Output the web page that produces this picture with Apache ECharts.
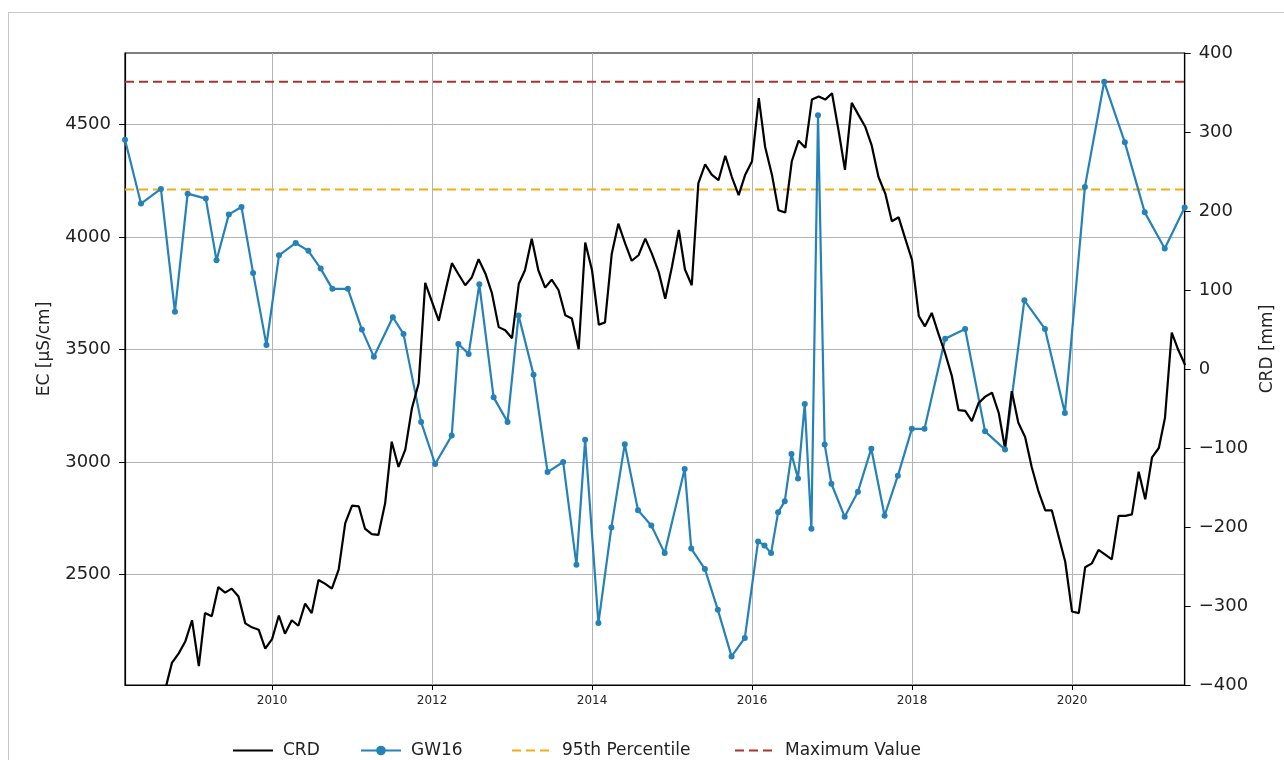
<!DOCTYPE html>
<html>
<head>
<meta charset="utf-8">
<title>EC / CRD</title>
<script src="https://cdn.jsdelivr.net/npm/echarts@6/dist/echarts.min.js"></script>
<style>
  html, body { margin: 0; padding: 0; background: #fff; }
  #frame { position: absolute; left: 8px; top: 12px; width: 1300px; height: 800px; border: 1px solid #c8c8c8; }
  #chart { position: absolute; left: 0; top: 0; width: 1284px; height: 760px; }
</style>
</head>
<body>
<div id="frame"></div>
<div id="chart"></div>
<script>
// CRD: monthly values from 2008-09 (mm, right axis)
var crdStart = [2008, 9];
var crdValues = [
  -405, -372, -360, -345, -318, -376, -309, -313, -276, -283,
  -278, -288, -322, -327, -330, -354, -342, -312, -335, -318,
  -325, -297, -309, -267, -272, -278, -254, -195, -173, -174,
  -202, -209, -210, -170, -92, -124, -102, -50, -18, 109,
  85, 61, 97, 134, 120, 106, 116, 139, 121, 96,
  53, 49, 39, 108, 125, 165, 125, 103, 113, 100,
  68, 64, 25, 160, 125, 56, 59, 146, 184, 159,
  137, 144, 165, 146, 123, 89, 130, 176, 126, 106,
  235, 259, 246, 239, 270, 243, 220, 246, 263, 343,
  281, 246, 201, 198, 263, 289, 280, 341, 345, 341,
  349, 300, 252, 337, 322, 307, 283, 243, 222, 187,
  192, 165, 138, 67, 54, 71, 45, 20, -8, -52,
  -53, -66, -43, -35, -30, -56, -100, -28, -68, -86,
  -124, -155, -179, -179, -212, -244, -307, -309, -251, -246,
  -229, -235, -241, -186, -186, -184, -130, -165, -112, -100,
  -62, 46, 24, 5
];

// GW16 sampling dates (decimal years) and EC (µS/cm, left axis)
var gwYears = [
  2008.162, 2008.362, 2008.611, 2008.786, 2008.945, 2009.172, 2009.306, 2009.460, 2009.618, 2009.763,
  2009.930, 2010.087, 2010.296, 2010.454, 2010.608, 2010.754, 2010.948, 2011.123, 2011.273, 2011.510,
  2011.643, 2011.864, 2012.039, 2012.246, 2012.329, 2012.458, 2012.591, 2012.770, 2012.944, 2013.082,
  2013.269, 2013.444, 2013.639, 2013.805, 2013.914, 2014.080, 2014.242, 2014.409, 2014.575, 2014.741,
  2014.908, 2015.158, 2015.240, 2015.411, 2015.573, 2015.744, 2015.910, 2016.076, 2016.156, 2016.238,
  2016.326, 2016.409, 2016.493, 2016.575, 2016.659, 2016.742, 2016.825, 2016.908, 2016.992, 2017.158,
  2017.324, 2017.491, 2017.657, 2017.823, 2017.998, 2018.156, 2018.414, 2018.664, 2018.913, 2019.163,
  2019.404, 2019.662, 2019.911, 2020.161, 2020.402, 2020.660, 2020.909, 2021.159, 2021.408
];
var gwValues = [
  4433, 4149, 4214, 3668, 4193, 4171, 3897, 4101, 4134, 3841,
  3521, 3919, 3974, 3939, 3860, 3770, 3770, 3589, 3468, 3644,
  3570, 3178, 2992, 3118, 3525, 3481, 3790, 3288, 3179, 3652,
  3389, 2956, 3001, 2544, 3100, 2285, 2710, 3080, 2786, 2719,
  2596, 2970, 2616, 2525, 2344, 2137, 2219, 2648, 2630, 2596,
  2777, 2826, 3036, 2928, 3259, 2704, 4541, 3078, 2904, 2758,
  2869, 3060, 2762, 2940, 3148, 3148, 3548, 3592, 3137, 3056,
  3719, 3592, 3219, 4223, 4690, 4421, 4110, 3949, 4132
];

// reference levels
var pct95 = 4212;
var maxValue = 4690;

// axis ticks
var yearTicks = [2010, 2012, 2014, 2016, 2018, 2020];
var ecTicks = [2500, 3000, 3500, 4000, 4500];
var xRange = [2008.162, 2021.408];
var ecRange = [2010, 4818];
var crdRange = [-400, 400];

// 月初 -> 小数年
function monthToYear(y, m) {
  var t0 = Date.UTC(y, 0, 1), t1 = Date.UTC(y + 1, 0, 1);
  return y + (Date.UTC(y, m - 1, 1) - t0) / (t1 - t0);
}

var crdData = crdValues.map(function (v, i) {
  var m = crdStart[1] - 1 + i;
  var y = crdStart[0] + Math.floor(m / 12);
  return [monthToYear(y, (m % 12) + 1), v];
});
var gwData = gwYears.map(function (t, i) { return [t, gwValues[i]]; });

var font = 'DejaVu Sans';

// 图例：每项单独定位
function legendItem(name, left, hideSymbol) {
  var item = { name: name };
  if (hideSymbol) item.itemStyle = { opacity: 0 };
  return {
    data: [item],
    left: left, top: 737,
    itemWidth: 40, itemHeight: 12,
    textStyle: { fontSize: 17, color: '#222', fontFamily: font, padding: [0, 0, 0, 5] }
  };
}

var chart = echarts.init(document.getElementById('chart'));
chart.setOption({
  backgroundColor: 'transparent',
  animation: false,
  textStyle: { fontFamily: font },
  grid: {
    left: 125, right: 97, top: 53, bottom: 75,
    show: true, borderColor: '#000', borderWidth: 1.2
  },
  legend: [
    legendItem('CRD', 227, true),
    legendItem('GW16', 355, false),
    legendItem('95th Percentile', 506, true),
    legendItem('Maximum Value', 729, true)
  ],
  xAxis: {
    type: 'value',
    min: xRange[0], max: xRange[1],
    axisLine: { onZero: false, lineStyle: { color: '#000', width: 1.2 } },
    axisTick: { customValues: yearTicks, length: 5, lineStyle: { color: '#000' } },
    axisLabel: {
      customValues: yearTicks, color: '#222', fontSize: 12, margin: 10,
      formatter: function (v) { return String(v); }
    },
    splitLine: { show: true, lineStyle: { color: '#b4b4b4', width: 1 } }
  },
  yAxis: [
    {
      type: 'value',
      min: ecRange[0], max: ecRange[1],
      name: 'EC [µS/cm]', nameLocation: 'middle', nameGap: 72,
      nameTextStyle: { fontSize: 17, color: '#222', padding: [0, 0, 0, 40] },
      axisLine: { show: true, onZero: false, lineStyle: { color: '#000', width: 1.2 } },
      axisTick: { show: true, customValues: ecTicks, length: 6, lineStyle: { color: '#000' } },
      axisLabel: {
        customValues: ecTicks, color: '#222', fontSize: 18, margin: 14,
        formatter: function (v) { return String(v); }
      },
      splitLine: { show: true, lineStyle: { color: '#b4b4b4', width: 1 } }
    },
    {
      type: 'value',
      min: crdRange[0], max: crdRange[1], interval: 100,
      name: 'CRD [mm]', nameLocation: 'middle', nameGap: 70, nameRotate: 90,
      nameTextStyle: { fontSize: 17, color: '#222', padding: [0, 0, 0, 40] },
      axisLine: { show: true, onZero: false, lineStyle: { color: '#000', width: 1.2 } },
      axisTick: { show: true, length: 6, lineStyle: { color: '#000' } },
      axisLabel: {
        color: '#222', fontSize: 18, margin: 14,
        formatter: function (v) { return v < 0 ? '\u2212' + Math.abs(v) : String(v); }
      },
      splitLine: { show: false }
    }
  ],
  series: [
    {
      name: '95th Percentile', type: 'line', yAxisIndex: 0,
      data: [[xRange[0], pct95], [xRange[1], pct95]],
      symbol: 'none', color: '#f2ae14',
      lineStyle: { width: 2, type: [9, 5], color: '#f2ae14' }
    },
    {
      name: 'Maximum Value', type: 'line', yAxisIndex: 0,
      data: [[xRange[0], maxValue], [xRange[1], maxValue]],
      symbol: 'none', color: '#a8352a',
      lineStyle: { width: 2, type: [9, 5], color: '#a8352a' }
    },
    {
      name: 'GW16', type: 'line', yAxisIndex: 0,
      data: gwData,
      symbol: 'circle', symbolSize: 6, color: '#2582b8',
      itemStyle: { color: '#2582b8' },
      lineStyle: { width: 2.2, color: '#2582b8' }
    },
    {
      name: 'CRD', type: 'line', yAxisIndex: 1,
      data: crdData,
      symbol: 'none', color: '#000',
      lineStyle: { width: 2.2, color: '#000' }
    }
  ]
});
</script>
</body>
</html>
